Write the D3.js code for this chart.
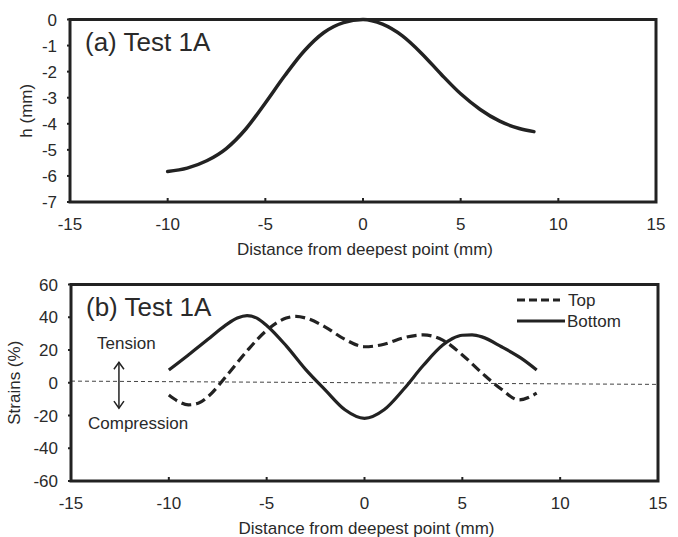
<!DOCTYPE html>
<html>
<head>
<meta charset="utf-8">
<script src="https://cdn.jsdelivr.net/npm/d3@7"></script>
<style>
  body { margin: 0; background: #fff; }
  text { font-family: Arial, "Liberation Sans", sans-serif; fill: #2a2a2a; }
</style>
</head>
<body>
<svg id="chart" width="678" height="537"></svg>
<script>
// panel (a): surface height profile
const hX = [-10, -9, -8, -7, -6, -5, -4, -3, -2, -1, 0, 1, 2, 3, 4, 5, 6, 7, 8, 8.75];
const hY = [-5.83, -5.7, -5.42, -4.95, -4.2, -3.2, -2.15, -1.2, -0.5, -0.12, 0, -0.18, -0.62, -1.3, -2.1, -2.85, -3.45, -3.9, -4.18, -4.3];

// panel (b): strains
const topX = [-10, -9.5, -9, -8.5, -8, -7, -6, -5, -4, -3.5, -3, -2, -1, 0, 1, 2, 3, 4, 5, 6, 7, 7.9, 8.8];
const topY = [-7.5, -11.5, -13.5, -12.5, -8.5, 5, 19.5, 32, 39.5, 40.5, 39.5, 34, 26.5, 22, 23.5, 27.5, 29.2, 26, 17, 6, -4, -10.5, -6.4];
const bottomX = [-10, -9, -8, -7.5, -7, -6.5, -6, -5.5, -5, -4, -3, -2, -1, 0, 1, 2, 3, 4, 4.5, 5, 5.5, 6, 7, 8, 8.8];
const bottomY = [7.8, 17, 26.5, 31.5, 36, 39.5, 41, 39.5, 35, 22.5, 8, -4.5, -16.5, -21.7, -16.5, -4, 10.5, 23, 27, 29, 29.2, 28, 22, 15, 7.8];
const zeroX = [-15, 15];
const zeroY = [1, -1];

const xTicks = [-15, -10, -5, 0, 5, 10, 15];
const hTicks = [0, -1, -2, -3, -4, -5, -6, -7];
const strainTicks = [60, 40, 20, 0, -20, -40, -60];
const seriesNames = ["Top", "Bottom"];
const titles = ["(a) Test 1A", "(b) Test 1A"];
const xTitle = "Distance from deepest point (mm)";

const ink = "#222";
const svg = d3.select("#chart");

function drawPanel(o) {
  const x = d3.scaleLinear().domain([-15, 15]).range([o.left, o.right]);
  const y = d3.scaleLinear().domain(o.yDomain).range([o.bottom, o.top]);
  const g = svg.append("g");

  // y ticks + labels
  g.selectAll(".ylab").data(o.yTicks).enter().append("text")
    .attr("x", o.left - 13).attr("y", d => y(d) + 6)
    .attr("text-anchor", "end").attr("font-size", 17).text(d => d);
  g.selectAll(".ytick").data(o.yTicks).enter().append("line")
    .attr("x1", o.left - 3).attr("x2", o.left).attr("y1", d => y(d)).attr("y2", d => y(d))
    .attr("stroke", ink).attr("stroke-width", 2);

  // x ticks + labels
  g.selectAll(".xlab").data(xTicks).enter().append("text")
    .attr("x", d => x(d)).attr("y", o.bottom + 28)
    .attr("text-anchor", "middle").attr("font-size", 17).text(d => d);
  g.selectAll(".xtick").data(xTicks).enter().append("line")
    .attr("x1", d => x(d)).attr("x2", d => x(d)).attr("y1", o.bottom).attr("y2", o.bottom - 4)
    .attr("stroke", ink).attr("stroke-width", 2);

  g.append("text").attr("x", (o.left + o.right) / 2 + 2).attr("y", o.bottom + 53)
    .attr("text-anchor", "middle").attr("font-size", 17).text(xTitle);

  g.append("text")
    .attr("transform", `translate(${o.yTitleX},${(o.top + o.bottom) / 2}) rotate(-90)`)
    .attr("text-anchor", "middle").attr("font-size", 17).text(o.yTitle);

  g.append("text").attr("x", o.left + 15).attr("y", o.top + 31)
    .attr("font-size", 26).text(o.title);

  return { x, y, g };
}

// ---- panel (a)
const a = drawPanel({
  left: 70, right: 656, top: 19.5, bottom: 202,
  yDomain: [-7, 0], yTicks: hTicks, yTitle: "h (mm)", yTitleX: 32, title: titles[0]
});
a.g.append("path")
  .datum(hX.map((d, i) => [d, hY[i]]))
  .attr("d", d3.line().x(d => a.x(d[0])).y(d => a.y(d[1])).curve(d3.curveMonotoneX))
  .attr("fill", "none").attr("stroke", ink).attr("stroke-width", 3.5).attr("stroke-linecap", "round");
a.g.append("rect").attr("x", 70).attr("y", 19.5).attr("width", 586).attr("height", 182.5)
  .attr("fill", "none").attr("stroke", ink).attr("stroke-width", 3);

// ---- panel (b)
const b = drawPanel({
  left: 71, right: 658, top: 284.5, bottom: 481,
  yDomain: [-60, 60], yTicks: strainTicks, yTitle: "Strains (%)", yTitleX: 20, title: titles[1]
});
const lineB = d3.line().x(d => b.x(d[0])).y(d => b.y(d[1])).curve(d3.curveMonotoneX);

b.g.append("path")
  .datum(zeroX.map((d, i) => [d, zeroY[i]]))
  .attr("d", d3.line().x(d => b.x(d[0])).y(d => b.y(d[1])))
  .attr("fill", "none").attr("stroke", "#444").attr("stroke-width", 1).attr("stroke-dasharray", "4,3");

b.g.append("path")
  .datum(topX.map((d, i) => [d, topY[i]]))
  .attr("d", lineB)
  .attr("fill", "none").attr("stroke", ink).attr("stroke-width", 3.2).attr("stroke-dasharray", "10,5");
b.g.append("path")
  .datum(bottomX.map((d, i) => [d, bottomY[i]]))
  .attr("d", lineB)
  .attr("fill", "none").attr("stroke", ink).attr("stroke-width", 3.2);

// tension / compression annotation
b.g.append("text").attr("x", 97).attr("y", 349).attr("font-size", 17).text("Tension");
b.g.append("text").attr("x", 88).attr("y", 429).attr("font-size", 17).text("Compression");
const ax = b.x(-12.55), ay1 = b.y(12.5), ay2 = b.y(-15.5);
b.g.append("line").attr("x1", ax).attr("x2", ax).attr("y1", ay1).attr("y2", ay2)
  .attr("stroke", ink).attr("stroke-width", 1.5);
b.g.append("path")
  .attr("d", `M${ax - 5},${ay1 + 7}L${ax},${ay1}L${ax + 5},${ay1 + 7}M${ax - 5},${ay2 - 7}L${ax},${ay2}L${ax + 5},${ay2 - 7}`)
  .attr("fill", "none").attr("stroke", ink).attr("stroke-width", 1.5);

// legend
const leg = b.g.append("g").attr("transform", "translate(517,300)");
seriesNames.forEach((name, i) => {
  leg.append("line").attr("x1", 0).attr("x2", i === 0 ? 43 : 48)
    .attr("y1", i * 21).attr("y2", i * 21)
    .attr("stroke", ink).attr("stroke-width", 3)
    .attr("stroke-dasharray", i === 0 ? "8,4" : null);
  leg.append("text").attr("x", i === 0 ? 51 : 50).attr("y", i * 21 + 6)
    .attr("font-size", 17).text(name);
});

b.g.append("rect").attr("x", 71).attr("y", 284.5).attr("width", 587).attr("height", 196.5)
  .attr("fill", "none").attr("stroke", ink).attr("stroke-width", 3);
</script>
</body>
</html>
